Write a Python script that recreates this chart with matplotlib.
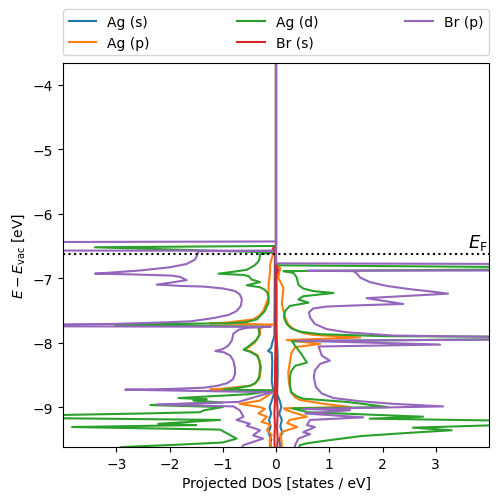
import matplotlib
matplotlib.use("Agg")
import matplotlib.pyplot as plt

E_F = -6.62
species = ["Ag (s)", "Ag (p)", "Ag (d)", "Br (s)", "Br (p)"]
colors = ["#1f77b4", "#ff7f0e", "#2ca02c", "#d62728", "#9467bd"]

# ---- Ag (s) ----
ag_s_up_E = [-3.5, -7.8, -8.0, -8.2, -8.5, -8.8, -8.9, -9.0, -9.1, -9.2, -9.3, -9.4, -9.5, -9.6, -9.7]
ag_s_up = [0, 0.0, 0.02, 0.03, 0.03, 0.02, 0.07, 0.10, 0.06, 0.11, 0.08, 0.12, 0.06, 0.08, 0.07]
ag_s_dn_E = [-3.5, -6.5, -6.6, -7.9, -8.0, -8.08, -8.13, -8.16, -8.3, -8.6, -8.75, -8.8, -8.9, -9.0, -9.1,
             -9.2, -9.3, -9.4, -9.5, -9.6, -9.7]
ag_s_dn = [0, 0, -0.02, -0.03, -0.07, -0.09, -0.15, -0.08, -0.07, -0.08, -0.05, -0.04, -0.08, -0.12, -0.09,
           -0.13, -0.10, -0.14, -0.09, -0.11, -0.10]

# ---- Ag (p) ----
ag_p_up_E = [-3.5, -6.80, -6.84, -6.99, -7.15, -7.40, -7.61, -7.72, -7.79, -7.85, -7.88, -7.92, -7.96, -8.02,
             -8.07, -8.16, -8.31, -8.46, -8.60, -8.77, -8.85, -8.89, -8.95, -9.00, -9.02, -9.05, -9.15, -9.20,
             -9.25, -9.31, -9.38, -9.42, -9.50, -9.60, -9.70]
ag_p_up = [0, 0, 0.08, 0.04, 0.14, 0.11, 0.17, 0.23, 0.33, 0.50, 0.70, 1.58, 0.20, 0.83,
           0.36, 0.29, 0.26, 0.23, 0.24, 0.28, 0.36, 0.45, 0.90, 1.39, 0.15, 0.20, 0.58, 0.26,
           0.21, 0.40, 0.13, 0.08, 0.10, 0.11, 0.10]
ag_p_dn_E = [-3.5, -6.58, -6.63, -6.79, -6.89, -7.10, -7.30, -7.51, -7.58, -7.64, -7.69, -7.70, -7.72, -7.77,
             -7.87, -8.00, -8.11, -8.14, -8.20, -8.38, -8.56, -8.64, -8.67, -8.71, -8.73, -8.76, -8.82, -8.90,
             -8.95, -9.00, -9.03, -9.10, -9.15, -9.23, -9.27, -9.36, -9.43, -9.52, -9.60, -9.70]
ag_p_dn = [0, 0, -0.06, -0.11, -0.11, -0.14, -0.14, -0.24, -0.31, -0.43, -0.93, -1.24, -0.05, -0.30,
           -0.30, -0.40, -0.58, -0.47, -0.34, -0.28, -0.31, -0.40, -0.50, -0.95, -1.24, -0.06, -0.15, -0.30,
           -0.68, -0.30, -0.21, -0.33, -0.17, -0.27, -0.11, -0.17, -0.08, -0.12, -0.09, -0.10]

# ---- Ag (d) ----
ag_d_up_E = [-3.5, -6.80, -6.83, -6.86, -6.89, -6.92, -6.99, -7.10, -7.16, -7.20, -7.23, -7.28, -7.33, -7.38,
             -7.43, -7.51, -7.61, -7.71, -7.78, -7.83, -7.87, -7.90, -7.91, -7.94, -7.98, -8.05, -8.18,
             -8.31, -8.36, -8.45, -8.54, -8.66, -8.77, -8.83, -8.87, -8.92, -9.00, -9.02, -9.08, -9.15,
             -9.18, -9.22, -9.26, -9.32, -9.36, -9.40, -9.45, -9.52, -9.56, -9.59, -9.70]
ag_d_up = [0, 0, 5, 5, 0.14, 0.33, 0.39, 0.42, 0.51, 0.70, 1.08, 0.51, 0.42, 0.61,
           0.26, 0.17, 0.15, 0.20, 0.29, 0.45, 0.83, 2.08, 5, 5, 0.30, 0.36, 0.48,
           0.58, 0.36, 0.28, 0.26, 0.26, 0.29, 0.38, 0.51, 1.33, 2.10, 0.30, 0.60, 2.76,
           1.76, 5, 5, 2.57, 3.30, 2.50, 1.60, 0.95, 0.60, 0.45, 0.40]
ag_d_dn_E = [-3.5, -6.50, -6.52, -6.60, -6.63, -6.70, -6.74, -6.80, -6.87, -6.90, -6.93, -6.95, -6.97, -7.02,
             -7.06, -7.08, -7.11, -7.14, -7.18, -7.23, -7.30, -7.38, -7.51, -7.58, -7.64, -7.68, -7.70,
             -7.71, -7.73, -7.75, -7.77, -7.87, -7.95, -8.00, -8.06, -8.11, -8.14, -8.20, -8.28, -8.38,
             -8.50, -8.56, -8.63, -8.67, -8.70, -8.73, -8.74, -8.80, -8.86, -8.88, -8.90, -8.93, -8.97,
             -9.00, -9.05, -9.08, -9.10, -9.13, -9.17, -9.20, -9.26, -9.28, -9.31, -9.35, -9.49, -9.55,
             -9.59, -9.62, -9.70]
ag_d_dn = [0, 0, -3.40, -0.06, -0.30, -0.31, -0.33, -0.40, -0.55, -0.80, -1.08, -0.61, -0.51, -0.46,
           -0.30, -0.40, -0.55, -0.30, -0.21, -0.16, -0.14, -0.14, -0.21, -0.29, -0.36, -0.55, -0.86,
           -2.11, -3.02, -0.24, -0.33, -0.31, -0.36, -0.43, -0.52, -0.61, -0.49, -0.36, -0.31, -0.30,
           -0.31, -0.33, -0.39, -0.49, -0.70, -0.99, -0.02, -0.50, -1.83, -1.30, -1.55, -1.00, -2.36,
           -1.00, -1.35, -1.43, -2.50, -4.50, -4.50, -1.05, -2.21, -1.50, -3.83, -1.05, -0.74, -1.00,
           -2.00, -2.90, -3.20]

# ---- Br (s) ----
br_s_up_E = [-3.5, -6.80, -6.87, -6.95, -8.0, -8.5, -8.9, -9.1, -9.3, -9.5, -9.7]
br_s_up = [0, 0, 0.04, 0.01, 0.01, 0.02, 0.02, 0.03, 0.02, 0.03, 0.02]
br_s_dn_E = [-3.5, -6.50, -6.54, -6.60, -8.0, -8.5, -8.9, -9.1, -9.3, -9.5, -9.7]
br_s_dn = [0, 0, -0.06, -0.01, -0.01, -0.02, -0.02, -0.03, -0.02, -0.03, -0.02]

# ---- Br (p) ----
br_p_up_E = [-3.5, -6.77, -6.78, -6.88, -6.885, -6.89, -6.92, -6.99, -7.06, -7.12, -7.17, -7.21, -7.24, -7.31,
             -7.36, -7.40, -7.42, -7.44, -7.47, -7.53, -7.61, -7.71, -7.79, -7.84, -7.89, -7.92, -7.95,
             -7.97, -8.03, -8.06, -8.13, -8.20, -8.28, -8.33, -8.43, -8.54, -8.69, -8.79, -8.86, -8.91,
             -8.95, -8.99, -9.03, -9.05, -9.10, -9.16, -9.20, -9.28, -9.31, -9.39, -9.42, -9.49, -9.59, -9.70]
br_p_up = [0, 0, 5, 5, 0.60, 1.45, 1.51, 1.58, 1.76, 2.08, 2.51, 2.95, 3.23, 1.70,
           2.08, 2.39, 1.58, 0.95, 0.70, 0.62, 0.64, 0.73, 0.95, 1.33, 2.20, 5, 5,
           0.40, 3.08, 0.80, 0.83, 0.86, 1.01, 0.83, 0.73, 0.71, 0.75, 0.86, 1.08, 1.58,
           2.20, 3.14, 0.51, 1.39, 0.55, 1.64, 0.64, 0.58, 0.73, 0.51, 0.64, 0.42, 0.36, 0.35]
br_p_dn_E = [-3.5, -6.43, -6.44, -6.57, -6.575, -6.58, -6.66, -6.71, -6.78, -6.83, -6.88, -6.91, -6.93, -6.94,
             -6.96, -6.98, -7.03, -7.07, -7.10, -7.11, -7.12, -7.13, -7.16, -7.20, -7.25, -7.33, -7.43,
             -7.51, -7.57, -7.62, -7.67, -7.69, -7.71, -7.72, -7.745, -7.755, -7.77, -7.80, -7.86, -7.97,
             -8.05, -8.10, -8.13, -8.15, -8.20, -8.28, -8.40, -8.49, -8.57, -8.63, -8.67, -8.70, -8.72,
             -8.73, -8.75, -8.77, -8.82, -8.92, -8.96, -8.99, -9.05, -9.15, -9.20, -9.26, -9.29, -9.36,
             -9.44, -9.49, -9.59, -9.70]
br_p_dn = [0, 0, -5, -5, -0.05, -1.45, -1.49, -1.52, -1.68, -1.99, -2.55, -3.05, -3.40, -2.74,
           -1.95, -1.80, -1.68, -1.99, -2.24, -1.99, -1.80, -1.36, -0.99, -0.77, -0.68, -0.64, -0.66,
           -0.74, -0.89, -1.18, -1.61, -2.24, -3.05, -4.50, -5, -0.10, -0.55, -0.70, -0.80, -0.83,
           -0.90, -1.00, -1.14, -0.98, -0.86, -0.80, -0.77, -0.77, -0.81, -0.92, -1.10, -1.36, -2.00,
           -2.83, -1.49, -0.05, -0.30, -0.70, -2.24, -0.80, -0.68, -0.61, -0.74, -0.49, -0.55, -0.30,
           -0.43, -0.24, -0.61, -0.70]

curves = [
    (ag_s_up_E, ag_s_up, ag_s_dn_E, ag_s_dn),
    (ag_p_up_E, ag_p_up, ag_p_dn_E, ag_p_dn),
    (ag_d_up_E, ag_d_up, ag_d_dn_E, ag_d_dn),
    (br_s_up_E, br_s_up, br_s_dn_E, br_s_dn),
    (br_p_up_E, br_p_up, br_p_dn_E, br_p_dn),
]

fig = plt.figure(figsize=(4.98, 5.02), dpi=100)
ax = fig.add_axes([63 / 498, 1 - 448 / 502, 426 / 498, 384 / 502])

for name, col, (eu, du, ed, dd) in zip(species, colors, curves):
    ax.plot(du, eu, color=col, lw=1.5, label=name)
    ax.plot(dd, ed, color=col, lw=1.5)

ax.axhline(E_F, color="k", ls=":", lw=1.5)
ax.text(3.97, E_F + 0.02, r"$E_\mathrm{F}$", ha="right", va="bottom", fontsize=13)

ax.set_xlim(-4, 4)
ax.set_ylim(E_F - 3, E_F + 2.96)
ax.set_xticks([-3, -2, -1, 0, 1, 2, 3])
ax.set_yticks([-9, -8, -7, -6, -5, -4])
ax.set_xlabel("Projected DOS [states / eV]")
ax.set_ylabel(r"$E - E_\mathrm{vac}$ [eV]")
ax.legend(bbox_to_anchor=(0.0, 1.02, 1.0, 0.102), loc="lower left", ncols=3,
          mode="expand", borderaxespad=0.0)

fig.savefig("out.png", dpi=100)
